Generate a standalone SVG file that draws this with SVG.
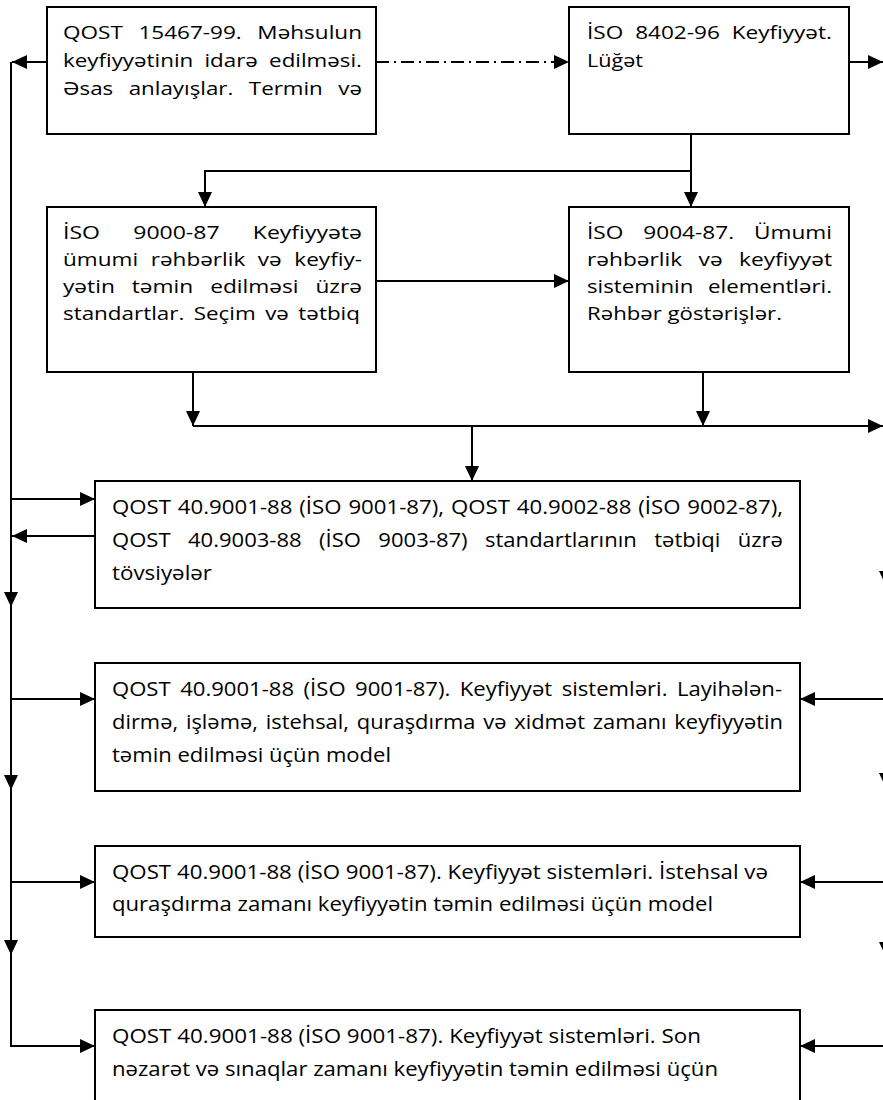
<svg xmlns="http://www.w3.org/2000/svg" width="883" height="1100" viewBox="0 0 883 1100">
<style>
.box{fill:#fff;stroke:#000;stroke-width:2}
.t{font-family:"Open Sans","Noto Sans","DejaVu Sans",sans-serif;fill:#000;font-weight:400}
.s{font-size:18.5px}
.b{font-size:20px}
.ln{fill:none;stroke:#000;stroke-width:2}
.dd{stroke-dasharray:13 5 2 5}
</style>
<defs>
<marker id="ah" viewBox="0 0 15 14" refX="15" refY="7" markerWidth="15" markerHeight="14" markerUnits="userSpaceOnUse" orient="auto">
<path d="M0,0 L15,7 L0,14 Z" fill="#000"/>
</marker>
</defs>
<rect width="883" height="1100" fill="#fff"/>

<g id="connectors">
<path class="ln" d="M47,62 H12" marker-end="url(#ah)"/>
<path class="ln dd" d="M376,62 H569" marker-end="url(#ah)"/>
<path class="ln" d="M849,62 H883" marker-end="url(#ah)"/>
<path class="ln" d="M691,134 V207" marker-end="url(#ah)"/>
<path class="ln" d="M691,171 H205 V207" marker-end="url(#ah)"/>
<path class="ln" d="M376,281 H569" marker-end="url(#ah)"/>
<path class="ln" d="M193,372 V426" marker-end="url(#ah)"/>
<path class="ln" d="M703,372 V426" marker-end="url(#ah)"/>
<path class="ln" d="M193,426 H883" marker-end="url(#ah)"/>
<path class="ln" d="M472,426 V481" marker-end="url(#ah)"/>
<path class="ln" d="M11,62 V607" marker-end="url(#ah)"/>
<path class="ln" d="M11,605 V790" marker-end="url(#ah)"/>
<path class="ln" d="M11,788 V955" marker-end="url(#ah)"/>
<path class="ln" d="M11,953 V1046 H95" marker-end="url(#ah)"/>
<path class="ln" d="M11,499 H95" marker-end="url(#ah)"/>
<path class="ln" d="M95,536 H12" marker-end="url(#ah)"/>
<path class="ln" d="M11,699 H95" marker-end="url(#ah)"/>
<path class="ln" d="M11,882 H95" marker-end="url(#ah)"/>
<path class="ln" d="M886,426 V586" marker-end="url(#ah)"/>
<path class="ln" d="M886,584 V788" marker-end="url(#ah)"/>
<path class="ln" d="M886,786 V957" marker-end="url(#ah)"/>
<path class="ln" d="M886,955 V1046"/>
<path class="ln" d="M886,699 H800" marker-end="url(#ah)"/>
<path class="ln" d="M886,882 H800" marker-end="url(#ah)"/>
<path class="ln" d="M886,1046 H800" marker-end="url(#ah)"/>
</g>

<g id="n1">
<rect class="box" x="47" y="7" width="329" height="127"/>
<text class="t s" x="63" y="39" word-spacing="8" textLength="299" lengthAdjust="spacingAndGlyphs">QOST 15467-99. Məhsulun</text>
<text class="t s" x="63" y="67" word-spacing="4.5" textLength="299" lengthAdjust="spacingAndGlyphs">keyfiyyətinin idarə edilməsi.</text>
<text class="t s" x="63" y="95" word-spacing="8" textLength="299" lengthAdjust="spacingAndGlyphs">Əsas anlayışlar. Termin və</text>
</g>

<g id="n2">
<rect class="box" x="569" y="7" width="280" height="127"/>
<text class="t s" x="587" y="39" word-spacing="5" textLength="245" lengthAdjust="spacingAndGlyphs">İSO 8402-96 Keyfiyyət.</text>
<text class="t s" x="587" y="67" textLength="56" lengthAdjust="spacingAndGlyphs">Lüğət</text>
</g>

<g id="n3">
<rect class="box" x="47" y="207" width="329" height="165"/>
<text class="t s" x="63" y="239" word-spacing="22" textLength="299" lengthAdjust="spacingAndGlyphs">İSO 9000-87 Keyfiyyətə</text>
<text class="t s" x="63" y="266" word-spacing="5.5" textLength="299" lengthAdjust="spacingAndGlyphs">ümumi rəhbərlik və keyfiy-</text>
<text class="t s" x="63" y="293" word-spacing="9" textLength="299" lengthAdjust="spacingAndGlyphs">yətin təmin edilməsi üzrə</text>
<text class="t s" x="63" y="320" word-spacing="3" textLength="297" lengthAdjust="spacingAndGlyphs">standartlar. Seçim və tətbiq</text>
</g>

<g id="n4">
<rect class="box" x="569" y="207" width="280" height="165"/>
<text class="t s" x="587" y="239" word-spacing="11.5" textLength="245" lengthAdjust="spacingAndGlyphs">İSO 9004-87. Ümumi</text>
<text class="t s" x="587" y="266" word-spacing="8.5" textLength="245" lengthAdjust="spacingAndGlyphs">rəhbərlik və keyfiyyət</text>
<text class="t s" x="587" y="293" word-spacing="7.5" textLength="245" lengthAdjust="spacingAndGlyphs">sisteminin elementləri.</text>
<text class="t s" x="587" y="320" textLength="195" lengthAdjust="spacingAndGlyphs">Rəhbər göstərişlər.</text>
</g>

<g id="n5">
<rect class="box" x="95" y="481" width="705" height="127"/>
<text class="t b" x="112" y="514" word-spacing="1" textLength="671" lengthAdjust="spacingAndGlyphs">QOST 40.9001-88 (İSO 9001-87), QOST 40.9002-88 (İSO 9002-87),</text>
<text class="t b" x="112" y="547" word-spacing="10.6" textLength="671" lengthAdjust="spacingAndGlyphs">QOST 40.9003-88 (İSO 9003-87) standartlarının tətbiqi üzrə</text>
<text class="t b" x="112" y="580" textLength="100" lengthAdjust="spacingAndGlyphs">tövsiyələr</text>
</g>

<g id="n6">
<rect class="box" x="95" y="663" width="705" height="128"/>
<text class="t b" x="112" y="696" word-spacing="3.4" textLength="670" lengthAdjust="spacingAndGlyphs">QOST 40.9001-88 (İSO 9001-87). Keyfiyyət sistemləri. Layihələn-</text>
<text class="t b" x="112" y="729" word-spacing="1.9" textLength="671" lengthAdjust="spacingAndGlyphs">dirmə, işləmə, istehsal, quraşdırma və xidmət zamanı keyfiyyətin</text>
<text class="t b" x="112" y="762" textLength="279" lengthAdjust="spacingAndGlyphs">təmin edilməsi üçün model</text>
</g>

<g id="n7">
<rect class="box" x="95" y="846" width="705" height="91"/>
<text class="t b" x="112" y="879" textLength="656" lengthAdjust="spacingAndGlyphs">QOST 40.9001-88 (İSO 9001-87). Keyfiyyət sistemləri. İstehsal və</text>
<text class="t b" x="112" y="911" textLength="601" lengthAdjust="spacingAndGlyphs">quraşdırma zamanı keyfiyyətin təmin edilməsi üçün model</text>
</g>

<g id="n8">
<rect class="box" x="95" y="1010" width="705" height="110"/>
<text class="t b" x="112" y="1043" textLength="589" lengthAdjust="spacingAndGlyphs">QOST 40.9001-88 (İSO 9001-87). Keyfiyyət sistemləri. Son</text>
<text class="t b" x="112" y="1076" textLength="606" lengthAdjust="spacingAndGlyphs">nəzarət və sınaqlar zamanı keyfiyyətin təmin edilməsi üçün</text>
</g>
</svg>
